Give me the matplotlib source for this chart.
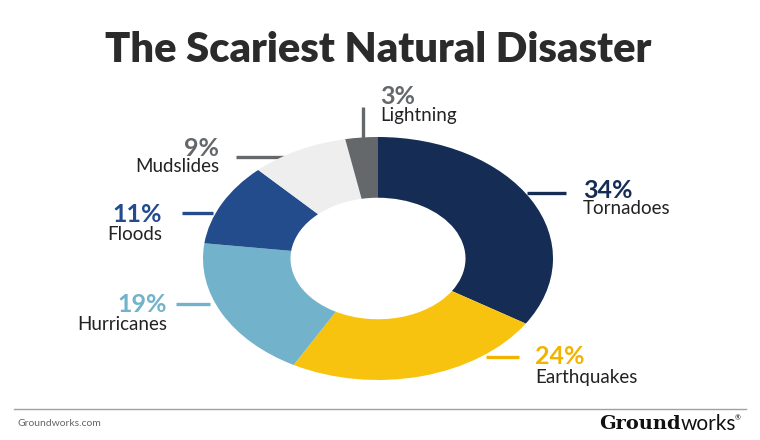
import matplotlib.pyplot as plt

# data
categories = ['Tornadoes', 'Earthquakes', 'Hurricanes', 'Floods', 'Mudslides', 'Lightning']
shares = [34, 24, 19, 11, 9, 3]
colors = ['#152d55', '#f8c30f', '#73b2cb', '#234c8c', '#eeeeee', '#65686b']
pct_colors = ['#152d55', '#f0b400', '#73b2cb', '#234c8c', '#65686b', '#65686b']

# label layout in pixels: (text x, pct y, name y, align, line x0, y0, x1, y1)
label_pos = [
    (583, 190, 209, 'left', 527, 193, 566, 193),
    (535, 357, 377, 'left', 486, 357, 519, 357),
    (167, 304, 324, 'right', 176, 304, 210, 304),
    (162, 214, 234, 'right', 182, 213, 213, 213),
    (219, 148, 167, 'right', 236, 157, 284, 157),
    (380, 97, 116, 'left', 363, 107, 363, 140),
]

plt.rcParams['font.family'] = ['Lato', 'DejaVu Sans']

fig = plt.figure(figsize=(7.6, 4.4), dpi=100)

# overlay axes in pixel coords for text/lines
ov = fig.add_axes([0, 0, 1, 1])
ov.set_xlim(0, 760)
ov.set_ylim(440, 0)
ov.axis('off')

# donut (stretched like the original)
ax = fig.add_axes([203 / 760, (440 - 380) / 440, 350 / 760, 243 / 440])
ax.pie(shares, colors=colors, startangle=90, counterclock=False,
       wedgeprops=dict(width=0.5, linewidth=0), radius=1)
ax.set_aspect('auto')
ax.set_xlim(-1, 1)
ax.set_ylim(-1, 1)

ov.text(378, 50, 'The Scariest Natural Disaster', ha='center', va='center',
        fontsize=30, fontweight='heavy', color='#2b2b2b')

for name, val, pc, pos in zip(categories, shares, pct_colors, label_pos):
    tx, py, ny, al, x0, y0, x1, y1 = pos
    ov.plot([x0, x1], [y0, y1], color=pc, lw=2.4, solid_capstyle='butt')
    ov.text(tx, py, f'{val}%', ha=al, va='center', fontsize=18,
            fontweight='bold', color=pc)
    ov.text(tx, ny, name, ha=al, va='center', fontsize=13.5, color='#222222')

# footer
ov.plot([14, 746], [409, 409], color='#a0a0a0', lw=1)
ov.text(17, 424, 'Groundworks.com', ha='left', va='center', fontsize=7.5, color='#666666')
ov.text(681, 424, 'Ground', ha='right', va='center', fontsize=14,
        fontweight='heavy', color='#111111', family='DejaVu Serif')
ov.text(681, 424, 'works', ha='left', va='center', fontsize=15, color='#111111')
ov.text(735, 418, '®', ha='left', va='center', fontsize=5, color='#111111')

fig.savefig('out.png', dpi=100)
